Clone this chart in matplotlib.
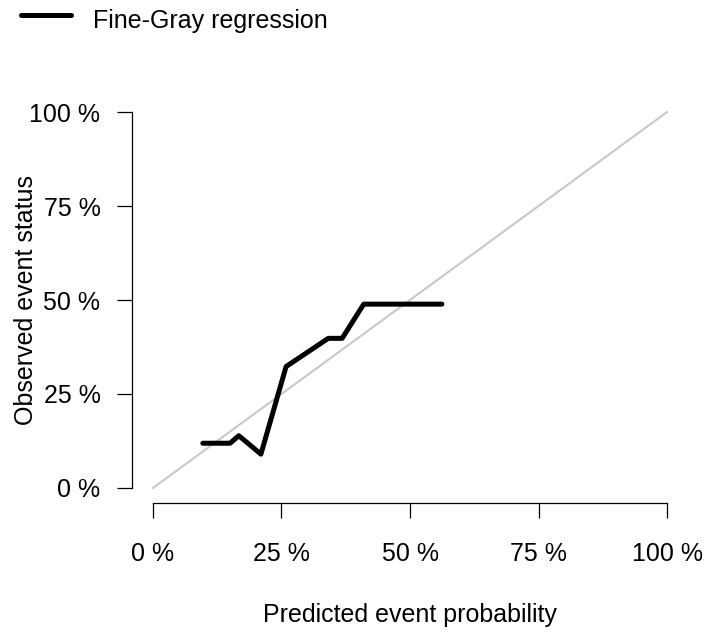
import matplotlib
matplotlib.use('Agg')
import matplotlib.pyplot as plt
from matplotlib.lines import Line2D

plt.rcParams['font.family'] = ['Liberation Sans', 'DejaVu Sans']

# calibration curve (predicted %, observed %)
pred = [9.7, 15.0, 16.7, 21.0, 25.9, 34.1, 36.8, 41.0, 56.2]
obs = [11.9, 11.9, 13.9, 9.0, 32.3, 39.8, 39.8, 48.9, 48.9]
ticks = [0, 25, 50, 75, 100]
tick_labels = ['0 %', '25 %', '50 %', '75 %', '100 %']

W, H = 725, 634
fig = plt.figure(figsize=(W/100, H/100), dpi=100)
ax = fig.add_axes([132.4/W, 1 - 503/H, 555.2/W, 406/H])

ax.plot([0, 100], [0, 100], color='#c8c8c8', lw=1.5, zorder=1)
ax.plot(pred, obs, color='black', lw=3.6, solid_joinstyle='round', solid_capstyle='round', zorder=2)

ax.set_xlim(-4, 104); ax.set_ylim(-4, 104)
for s in ['top', 'right']:
    ax.spines[s].set_visible(False)
ax.spines['left'].set_bounds(0, 100)
ax.spines['bottom'].set_bounds(0, 100)
ax.set_xticks(ticks); ax.set_xticklabels(tick_labels)
ax.set_yticks(ticks); ax.set_yticklabels(tick_labels)
ax.tick_params(length=11, width=0.9, labelsize=18, color='black')
ax.tick_params(axis='x', pad=17)
ax.tick_params(axis='y', pad=12)
for s in ['left', 'bottom']:
    ax.spines[s].set_linewidth(0.9)

fig.text(410/W, 1 - 622/H, 'Predicted event probability', fontsize=18, ha='center', va='baseline')
fig.text(26/W, 1 - 300/H, 'Observed event status', fontsize=18, ha='center', va='center', rotation=90)

fig.add_artist(Line2D([21/W, 71/W], [1 - 15/H, 1 - 15/H], color='black', lw=3.6, solid_capstyle='round'))
fig.text(93/W, 1 - 28/H, 'Fine-Gray regression', fontsize=18, va='baseline', ha='left')

fig.savefig('out.png', dpi=100)
